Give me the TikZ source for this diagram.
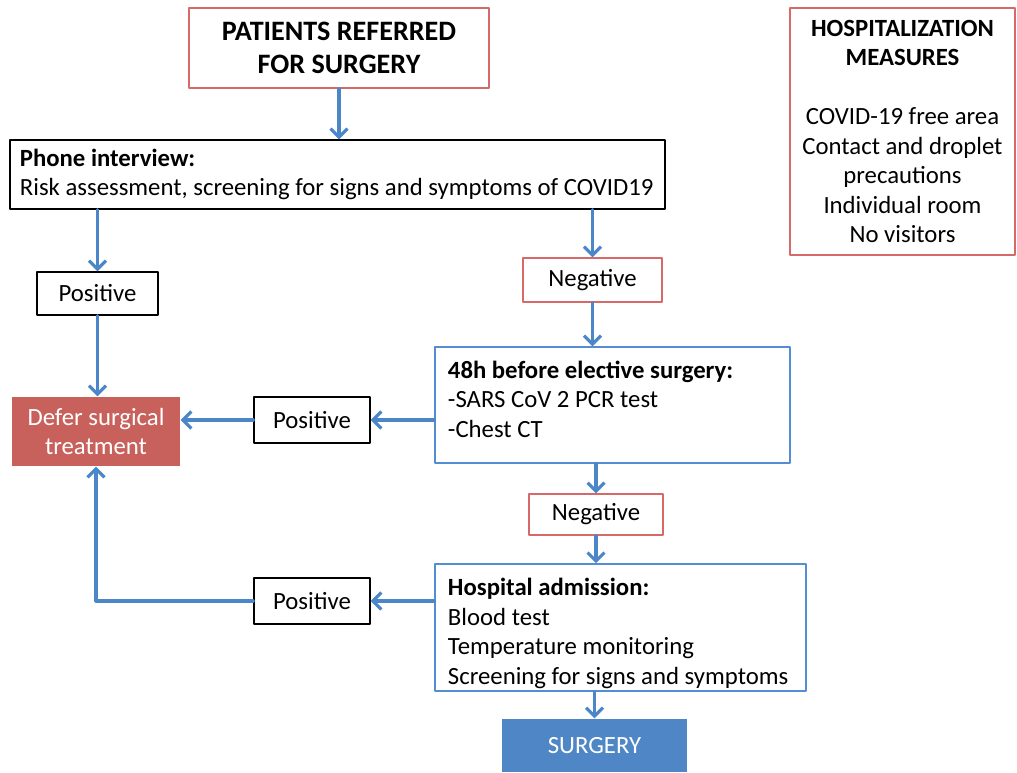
\documentclass[tikz,border=0pt]{standalone}
\usepackage{fontspec}
\setmainfont{Carlito}
\usetikzlibrary{arrows.meta}
\definecolor{boxred}{RGB}{214,106,104}
\definecolor{boxblue}{RGB}{84,141,212}
\definecolor{arrowblue}{RGB}{74,134,200}
\definecolor{deferred}{RGB}{200,96,92}
\definecolor{surgblue}{RGB}{79,134,198}
\newcommand\natspace{\spaceskip 0pt\relax}

\begin{document}
\begin{tikzpicture}[line cap=round,line join=round,x=0.025cm,y=-0.025cm,
	box/.style={draw,line width=1pt,inner sep=0pt,align=center,font=\fontsize{17.6}{21}\selectfont},
	redbox/.style={box,draw=boxred},
	blackbox/.style={box,draw=black},
	leftbox/.style={align=left,inner ysep=2pt,execute at begin node={\natspace}},
	bluebox/.style={box,leftbox,draw=boxblue,inner xsep=0.325cm},
	fillred/.style={box,draw=none,fill=deferred,text=white},
	fillblue/.style={box,draw=none,fill=surgblue,text=white},
	flow/.style={draw=arrowblue,line width=2.2pt,-{Straight Barb[length=6pt,width=12pt]}}]
		\useasboundingbox (0,0) rectangle (1017,772);
		\node[redbox,minimum width=7.5cm,minimum height=2cm,font=\fontsize{20}{23}\selectfont\bfseries] (top) at (339,48) {PATIENTS REFERRED\\FOR SURGERY};
		\node[redbox,line width=2pt,minimum width=5.625cm,minimum height=6.175cm] (hosp) at (902.5,131.5) {\textbf{HOSPITALIZATION}\\\textbf{MEASURES}\\[21pt]COVID-19 free area\\Contact and droplet\\precautions\\Individual room\\No visitors};
		\node[blackbox,leftbox,text width=15.875cm,inner xsep=0.25cm,minimum height=1.725cm] (phone) at (337.5,174.5) {\textbf{Phone interview:}\\Risk assessment, screening for signs and symptoms of COVID19};
		\node[blackbox,minimum width=3.025cm,minimum height=1.075cm] (pos1) at (97.5,293.5) {Positive};
		\node[redbox,minimum width=3.475cm,minimum height=1.1cm] (neg1) at (592.5,280) {Negative};
		\node[bluebox,text width=8.225cm,minimum height=2.9cm] (test48) at (612.5,405) {\textbf{48h before elective surgery:}\\-SARS CoV 2 PCR test\\-Chest CT\\[-12.5pt]\mbox{}};
		\node[blackbox,minimum width=2.9cm,minimum height=1.15cm] (pos2) at (312,420) {Positive};
		\node[fillred,minimum width=4.2cm,minimum height=1.725cm] (defer) at (96,431.5) {Defer surgical\\treatment};
		\node[redbox,minimum width=3.35cm,minimum height=1.025cm] (neg2) at (596,514.5) {Negative};
		\node[bluebox,text width=8.625cm,minimum height=3.125cm] (admit) at (620.5,627.5) {\mbox{}\\[-0.5pt]\textbf{Hospital admission:}\\Blood test\\Temperature monitoring\\Screening for signs and symptoms};
		\node[blackbox,minimum width=2.9cm,minimum height=1.15cm] (pos3) at (312,601) {Positive};
		\node[fillblue,minimum width=4.625cm,minimum height=1.325cm] (surgery) at (594.5,745.5) {SURGERY};
		\draw[flow] (top.south) -- (top.south |- phone.north);
		\draw[flow] (phone.south -| pos1) -- (pos1.north);
		\draw[flow] (phone.south -| neg1) -- (neg1.north);
		\draw[flow] (neg1.south) -- (neg1.south |- test48.north);
		\draw[flow] (test48.west |- pos2) -- (pos2.east);
		\draw[flow] (pos2.west) -- (pos2 -| defer.east);
		\draw[flow] (pos1.south) -- (pos1.south |- defer.north);
		\draw[flow] (test48.south -| neg2) -- (neg2.north);
		\draw[flow] (neg2.south) -- (neg2.south |- admit.north);
		\draw[flow] (admit.west |- pos3) -- (pos3.east);
		\draw[flow] (pos3.west) -| (defer.south);
		\draw[flow] (admit.south -| surgery) -- (surgery.north);
\end{tikzpicture}
\end{document}
